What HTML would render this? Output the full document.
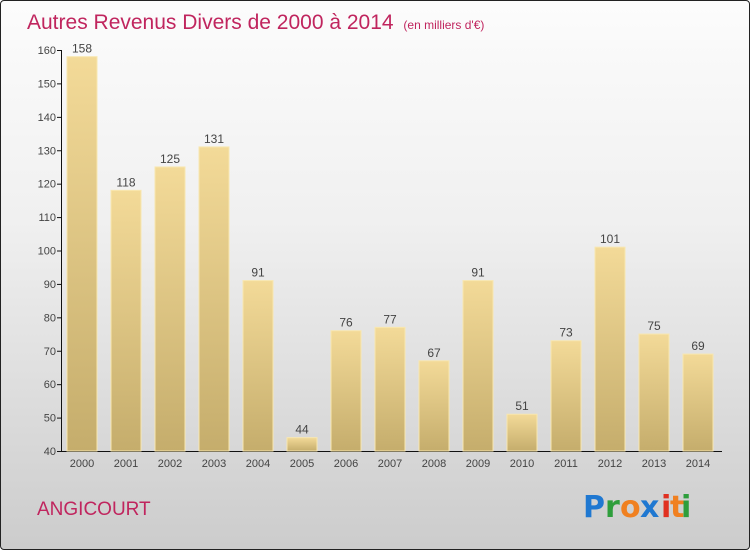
<!DOCTYPE html>
<html><head><meta charset="utf-8"><style>
html,body{margin:0;padding:0}
body{width:750px;height:550px;overflow:hidden;font-family:"Liberation Sans",sans-serif}
#wrap{position:absolute;left:0;top:0;width:748px;height:548px;border:1px solid #222;border-radius:4px;background:linear-gradient(#fcfcfc,#f0f0f0 40%,#cccccc);overflow:hidden}
</style></head><body>
<div id="wrap">
<svg id="chart" width="748" height="548">
<defs><linearGradient id="bg" x1="0" y1="0" x2="0" y2="1"><stop offset="0" stop-color="#f3da98"/><stop offset="1" stop-color="#c5ad6c"/></linearGradient></defs>
<text x="26" y="28" font-size="21" fill="#c0255e">Autres Revenus Divers de 2000 à 2014 <tspan font-size="12" dx="4">(en milliers d'€)</tspan></text>
<text x="36" y="514" font-size="19" fill="#c0255e">ANGICOURT</text>
<g font-size="30" font-weight="bold" font-family="'DejaVu Sans',sans-serif">
<text x="582" y="516" fill="#1f78d1">P</text><text x="604" y="516" fill="#2e9e3c">r</text><text x="619" y="516" fill="#f08020">o</text><text x="639" y="516" fill="#1f78d1">x</text><text x="660" y="516" fill="#e03020">i</text><text x="669" y="516" fill="#f08020">t</text><text x="680" y="516" fill="#2e9e3c">i</text>
</g>
<g id="g"></g>
</svg>
</div>
<script>
const years=["2000","2001","2002","2003","2004","2005","2006","2007","2008","2009","2010","2011","2012","2013","2014"];
const values=[158,118,125,131,91,44,76,77,67,91,51,73,101,75,69];
const ticks=[40,50,60,70,80,90,100,110,120,130,140,150,160];
const NS="http://www.w3.org/2000/svg";
const g=document.getElementById('g');
const y=v=>450-(v-40)*401/120;
const x=i=>81+i*44;
function mk(t,a){const e=document.createElementNS(NS,t);for(const k in a)e.setAttribute(k,a[k]);g.appendChild(e);return e;}
let ax=mk('line',{x1:60.5,y1:49,x2:60.5,y2:450.5,stroke:'#111'});


let bx=mk('line',{x1:60,y1:450.5,x2:721,y2:450.5,stroke:'#111'});


ticks.forEach(t=>{
 let l=mk('line',{x1:56,x2:61,y1:y(t)+.5,y2:y(t)+.5,stroke:'#111'});
 
 
 let tx=mk('text',{x:55,y:y(t)+4,'font-size':11,fill:'#444','text-anchor':'end'});
 tx.textContent=t;
 
 
});
values.forEach((v,i)=>{
 let r=mk('rect',{x:x(i)-15,y:y(v),width:30,height:450-y(v),fill:'url(#bg)',stroke:'#f8e7b0','stroke-width':1});
 
 
 let lb=mk('text',{x:x(i),y:y(v)-4,'font-size':12,fill:'#444','text-anchor':'middle'});
 lb.textContent=v;
 
 
 let xl=mk('text',{x:x(i),y:466,'font-size':11,fill:'#444','text-anchor':'middle'});
 xl.textContent=years[i];
 
 
});
</script>
</body></html>
